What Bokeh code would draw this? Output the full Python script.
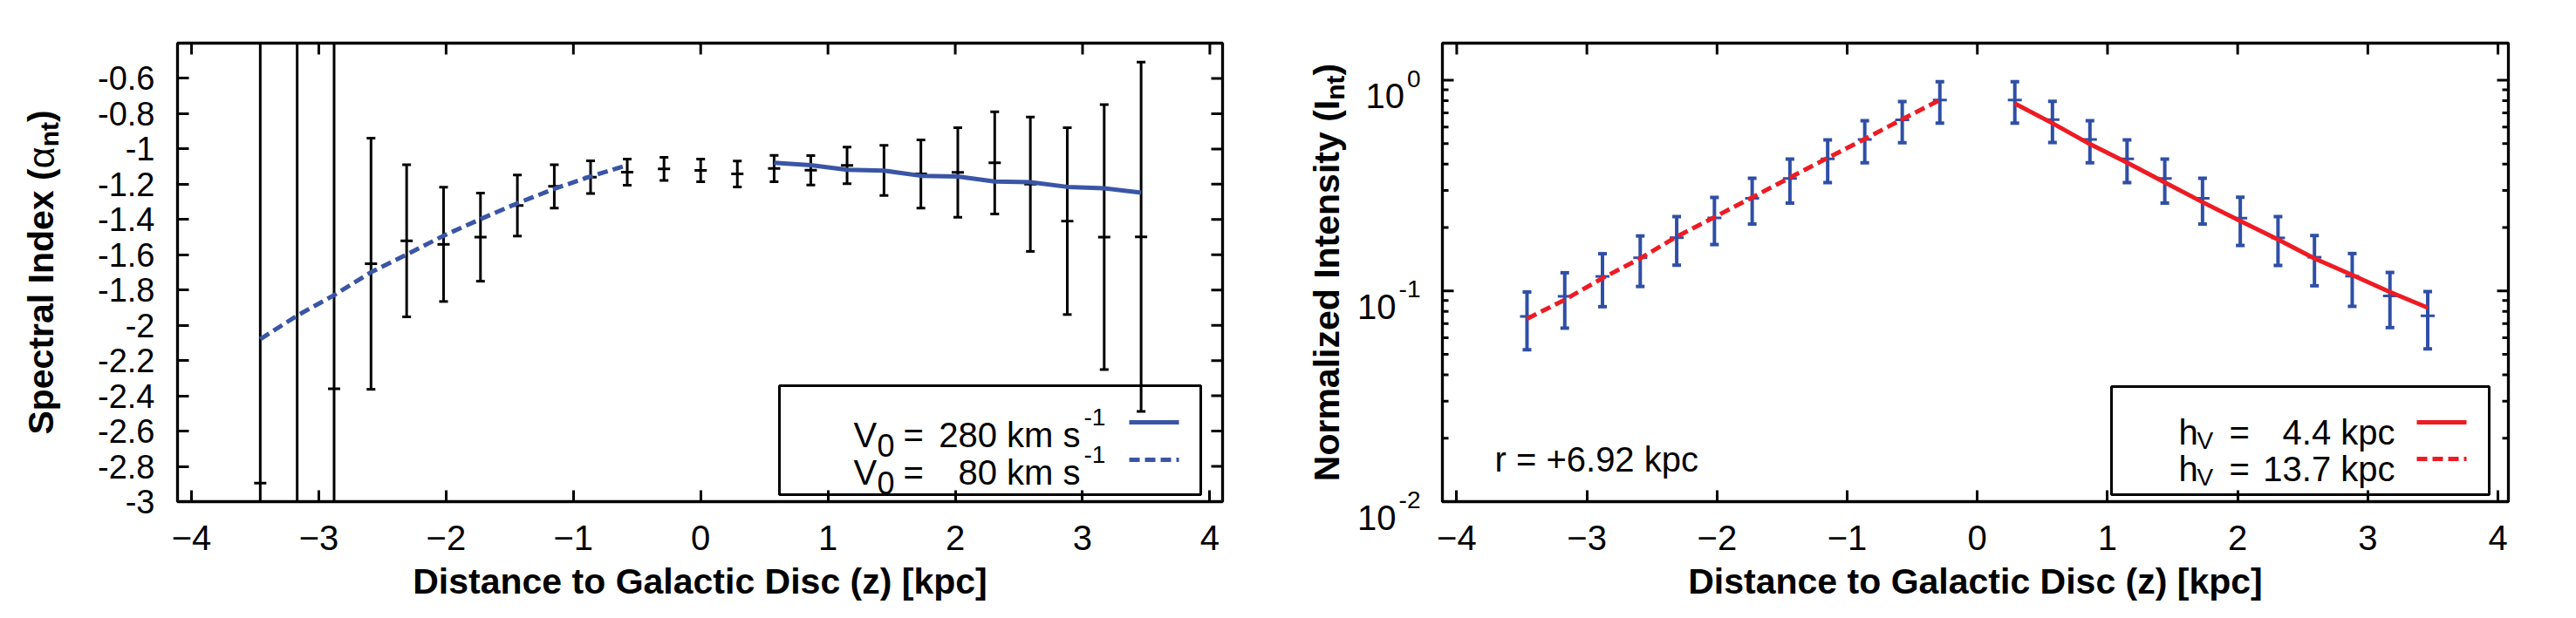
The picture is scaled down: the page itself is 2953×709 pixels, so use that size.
import math
from bokeh.plotting import figure
from bokeh.layouts import row
from bokeh.models import Label, BoxAnnotation, FixedTicker, NumeralTickFormatter, Range1d, Plot
from bokeh.embed import file_html
from bokeh.resources import INLINE

FONT = "Liberation Sans"
BLUE_FIT = "#3a55a6"
BLUE_BAR = "#2f4fa6"
RED = "#ed1c24"

# ---------------- data: spectral index profile ----------------
z_alpha = [-3.46, -3.17, -2.88, -2.59, -2.31, -2.02, -1.73, -1.44, -1.15, -0.865, -0.577, -0.288,
           0.0, 0.288, 0.577, 0.865, 1.15, 1.44, 1.73, 2.02, 2.31, 2.59, 2.88, 3.17, 3.46]
alpha = [-2.895, -3.30, -2.36, -1.651, -1.521, -1.541, -1.50, -1.321, -1.212, -1.16, -1.132, -1.113,
         -1.122, -1.142, -1.111, -1.121, -1.093, -1.122, -1.142, -1.133, -1.079, -1.20, -1.409, -1.50, -1.498]
alpha_err = [2.75, 3.0, 2.05, 0.712, 0.431, 0.324, 0.25, 0.173, 0.123, 0.093, 0.074, 0.066,
             0.064, 0.073, 0.075, 0.083, 0.104, 0.142, 0.193, 0.254, 0.29, 0.381, 0.53, 0.751, 0.99]

# advection model, V0 = 80 km/s (below the disc)
z_v80 = [-3.46, -3.17, -2.88, -2.59, -2.31, -2.02, -1.73, -1.44, -1.15, -0.865, -0.577]
alpha_v80 = [-2.079, -1.945, -1.829, -1.699, -1.599, -1.492, -1.398, -1.308, -1.226, -1.156, -1.092]
# advection model, V0 = 280 km/s (above the disc)
z_v280 = [0.577, 0.865, 1.15, 1.44, 1.73, 2.02, 2.31, 2.59, 2.88, 3.17, 3.46]
alpha_v280 = [-1.078, -1.092, -1.118, -1.123, -1.152, -1.156, -1.185, -1.188, -1.215, -1.223, -1.248]

# ---------------- data: normalized intensity profile ----------------
z_int = [-3.46, -3.17, -2.88, -2.59, -2.31, -2.02, -1.73, -1.44, -1.15, -0.865, -0.577, -0.288,
         0.288, 0.577, 0.865, 1.15, 1.44, 1.73, 2.02, 2.31, 2.59, 2.88, 3.17, 3.46]
intensity = [0.0757, 0.0943, 0.1172, 0.1437, 0.179, 0.222, 0.275, 0.342, 0.424, 0.524, 0.649, 0.805,
             0.805, 0.65, 0.524, 0.424, 0.342, 0.275, 0.2214, 0.1786, 0.1445, 0.1175, 0.0947, 0.0762]
intensity_err = [0.0231, 0.0277, 0.033, 0.0387, 0.0465, 0.056, 0.0673, 0.081, 0.097, 0.118, 0.144, 0.179,
                 0.179, 0.144, 0.118, 0.097, 0.081, 0.0673, 0.057, 0.0465, 0.0387, 0.033, 0.0277, 0.0231]

# exponential scale-height fits
z_h137 = [-3.46, -3.17, -2.88, -2.59, -2.31, -2.02, -1.73, -1.44, -1.15, -0.865, -0.577, -0.288]
int_h137 = [0.0738, 0.0908, 0.115, 0.1427, 0.181, 0.224, 0.278, 0.345, 0.428, 0.526, 0.653, 0.806]
z_h44 = [0.288, 0.577, 0.865, 1.15, 1.44, 1.73, 2.02, 2.31, 2.59, 2.88, 3.17, 3.46]
int_h44 = [0.776, 0.625, 0.4977, 0.4066, 0.3277, 0.264, 0.2148, 0.1754, 0.1427, 0.119, 0.0989, 0.0833]

# ---------------- ticks ----------------
x_ticks = [-4, -3, -2, -1, 0, 1, 2, 3, 4]
alpha_ticks = [-3.0, -2.8, -2.6, -2.4, -2.2, -2.0, -1.8, -1.6, -1.4, -1.2, -1.0, -0.8, -0.6]
int_ticks = [0.01, 0.1, 1.0]
int_tick_exps = ["-2", "-1", "0"]
int_minor = [0.02, 0.03, 0.04, 0.05, 0.06, 0.07, 0.08, 0.09, 0.2, 0.3, 0.4, 0.5, 0.6, 0.7, 0.8, 0.9]

# ---------------- layout constants (page pixels) ----------------
H = 709
TOP, FH = 49, 526
GUTTER_L = 100                      # strip holding the left y title
L_LEFT, L_FW = 203, 1198            # left frame
L_W = 1450 - GUTTER_L
GUTTER_R = 190                      # strip holding the right y title and decade labels
R_START = 1450 + GUTTER_R
R_LEFT, R_FW = 1653, 1222           # right frame
R_W = 2953 - R_START
LX = (-4.11, 4.10)
LY = (-3.0, -0.4)
RX = (-4.11, 4.08)
RY = (0.01, 1.5)
R_LO, R_HI = math.log10(RY[0]), math.log10(RY[1])

# strips may opt out of frame alignment so that their drawing area spans the full height
FULL_STRIP = "frame_align" in Plot.properties()


def lpx(px):
    return LX[0] + (px - L_LEFT) / L_FW * (LX[1] - LX[0])


def lpy(py):
    return LY[1] - (py - TOP) / FH * (LY[1] - LY[0])


def rpx(px):
    return RX[0] + (px - R_LEFT) / R_FW * (RX[1] - RX[0])


def rpy(py):
    return 10 ** (R_HI - (py - TOP) / FH * (R_HI - R_LO))


def r_py_of(v):
    return TOP + (R_HI - math.log10(v)) / (R_HI - R_LO) * FH


# Arial / Liberation advance widths (per 1000 em) used to lay out the composite texts
BOLD_W = {" ": 278, "(": 333, ")": 333, "S": 667, "p": 611, "e": 556, "c": 556, "t": 333,
          "r": 389, "a": 556, "l": 278, "I": 278, "n": 611, "d": 611, "x": 556, "N": 722,
          "o": 611, "m": 889, "i": 278, "z": 500, "y": 556, "s": 556}
REG_W = {"α": 580, "-": 333, "0": 556, "1": 556, "2": 556}


def width(s, size, bold):
    table = BOLD_W if bold else REG_W
    return sum(table[c] for c in s) * size / 1000.0


def add_text(p, x, y, text, size, bold=False, align="left", angle=0.0):
    p.add_layout(Label(x=x, y=y, text=text, text_font=FONT, text_font_size=f"{size}px",
                       text_font_style="bold" if bold else "normal", text_align=align,
                       text_baseline="alphabetic", angle=angle, text_color="black"))


def style_axis(ax, ticker, label_size, standoff):
    ax.ticker = ticker
    ax.axis_line_color = None
    ax.major_tick_in = 13
    ax.major_tick_out = 0
    ax.major_tick_line_width = 3
    ax.major_tick_line_color = "black"
    ax.minor_tick_line_color = None
    ax.major_label_text_font = FONT
    ax.major_label_text_color = "black"
    ax.major_label_text_font_size = label_size
    ax.major_label_standoff = standoff


def make_fig(width_px, border_left, border_right, xr, yr, ytype, yloc="left"):
    p = figure(width=width_px, height=H, x_range=Range1d(*xr), y_range=Range1d(*yr),
               y_axis_type=ytype, y_axis_location=yloc, output_backend="svg", toolbar_location=None,
               min_border_left=border_left, min_border_right=border_right,
               min_border_top=TOP, min_border_bottom=H - TOP - FH)
    p.grid.visible = False
    p.outline_line_color = "black"
    p.outline_line_width = 3.3
    p.outline_line_alpha = 1.0
    p.background_fill_color = "white"
    p.border_fill_color = "white"
    return p


def side_strip(width_px, to_y, ytype):
    # axis-free strip whose vertical scale continues the neighbouring panel's scale
    top, bottom = (0, H) if FULL_STRIP else (TOP, TOP + FH)
    f = figure(width=width_px, height=H, x_range=Range1d(0, width_px),
               y_range=Range1d(to_y(bottom), to_y(top)), y_axis_type=ytype,
               x_axis_location=None, y_axis_location=None,
               output_backend="svg", toolbar_location=None,
               min_border_left=0, min_border_right=0,
               min_border_top=top, min_border_bottom=H - bottom)
    if FULL_STRIP:
        f.frame_align = False
    f.grid.visible = False
    f.outline_line_color = None
    f.background_fill_color = "white"
    f.border_fill_color = "white"
    return f


def x_axis(p):
    bottom = p.below[0]
    style_axis(bottom, FixedTicker(ticks=x_ticks), "40px", 27)
    bottom.axis_label = "Distance to Galactic Disc (z) [kpc]"
    bottom.axis_label_text_font = FONT
    bottom.axis_label_text_font_style = "bold"
    bottom.axis_label_text_font_size = "41px"
    bottom.axis_label_text_color = "black"
    bottom.axis_label_standoff = 10


def edge_ticks(p, xs, y_edge, x_edge, ys, size=26, vertical=True):
    # inward ticks drawn as dashes centred on a frame edge; the outer half is clipped away
    if vertical:
        p.scatter(x=xs, y=[y_edge] * len(xs), marker="dash", angle=math.pi / 2, size=size,
                  line_color="black", line_width=3)
    else:
        p.scatter(x=[x_edge] * len(ys), y=ys, marker="dash", size=size,
                  line_color="black", line_width=3)


def add_ytitle(f, base_x, pieces, to_x, to_y):
    total = sum(width(t, s, b) for t, s, b, _ in pieces)
    py = TOP + FH / 2 + total / 2.0
    for text, size, bold, shift in pieces:
        add_text(f, to_x(base_x + shift), to_y(py), text, size, bold=bold, angle=math.pi / 2)
        py -= width(text, size, bold)


# ======================= left panel: spectral index =======================
fL = side_strip(GUTTER_L, lpy, "linear")
add_ytitle(fL, 46, [("Spectral Index (", 41, True, 0), ("α", 43, False, 0),
                    ("nt", 30, True, 10), (")", 41, True, 0)],
           lambda px: px, lpy)

p1 = make_fig(L_W, L_LEFT - GUTTER_L, 1450 - L_LEFT - L_FW, LX, LY, "linear")
x_axis(p1)
left_ax = p1.left[0]
style_axis(left_ax, FixedTicker(ticks=alpha_ticks), "38px", 26)
left_ax.formatter = NumeralTickFormatter(format="0.[0]")
edge_ticks(p1, x_ticks, LY[1], None, None)
edge_ticks(p1, None, None, LX[1], alpha_ticks, vertical=False)

a_lo = [a - e for a, e in zip(alpha, alpha_err)]
a_hi = [a + e for a, e in zip(alpha, alpha_err)]
p1.segment(x0=z_alpha, y0=a_lo, x1=z_alpha, y1=a_hi, line_color="black", line_width=3)
p1.scatter(x=z_alpha + z_alpha, y=a_lo + a_hi, marker="dash", size=10, line_color="black", line_width=3)
p1.scatter(x=z_alpha, y=alpha, marker="dash", size=14, line_color="black", line_width=3)

p1.line(z_v80, alpha_v80, line_color=BLUE_FIT, line_width=5, line_dash="12 6")
p1.line(z_v280, alpha_v280, line_color=BLUE_FIT, line_width=5)

# key
p1.add_layout(BoxAnnotation(left=lpx(893), right=lpx(1376), top=lpy(442), bottom=lpy(567),
                            fill_alpha=0, line_color="black", line_width=3, line_alpha=1))
for base, value, dash in [(498, "280 km s", "solid"), (541, "80 km s", "12 6")]:
    add_text(p1, lpx(978), lpy(base), "V", 40)
    add_text(p1, lpx(1005), lpy(base + 12), "0", 36)
    add_text(p1, lpx(1035), lpy(base), "=", 40)
    add_text(p1, lpx(1238), lpy(base), value, 40, align="right")
    add_text(p1, lpx(1242), lpy(base - 20), "-1", 28)
    p1.line([lpx(1294), lpx(1351)], [lpy(base - 14)] * 2, line_color=BLUE_FIT, line_width=5,
            line_dash=dash)

# ======================= right panel: normalized intensity =======================
fR = side_strip(GUTTER_R, rpy, "log")
add_ytitle(fR, 1520, [("Normalized Intensity (", 41, True, 0), ("I", 41, True, 0),
                      ("nt", 30, True, 10), (")", 41, True, 0)],
           lambda px: px - 1450, rpy)
# decade labels 10^k beside the log axis
for val, exp in zip(int_ticks, int_tick_exps):
    tp = r_py_of(val)
    sup_right = 1628 - 1450
    add_text(fR, sup_right, rpy(tp - 2), exp, 28, align="right")
    add_text(fR, sup_right - width(exp, 28, False) - 3, rpy(tp + 18), "10", 40, align="right")

p2 = make_fig(R_W, R_LEFT - R_START, 2953 - R_LEFT - R_FW, RX, RY, "log", yloc=None)
x_axis(p2)
edge_ticks(p2, x_ticks, RY[1], None, None)
for x_edge in RX:
    edge_ticks(p2, None, None, x_edge, int_ticks, vertical=False)
    edge_ticks(p2, None, None, x_edge, int_minor, size=14, vertical=False)

i_lo = [v - e for v, e in zip(intensity, intensity_err)]
i_hi = [v + e for v, e in zip(intensity, intensity_err)]
p2.segment(x0=z_int, y0=i_lo, x1=z_int, y1=i_hi, line_color=BLUE_BAR, line_width=4)
p2.scatter(x=z_int + z_int, y=i_lo + i_hi, marker="dash", size=10, line_color=BLUE_BAR, line_width=4)
p2.scatter(x=z_int, y=intensity, marker="dash", size=16, line_color=BLUE_BAR, line_width=3)

p2.line(z_h137, int_h137, line_color=RED, line_width=5, line_dash="12 6")
p2.line(z_h44, int_h44, line_color=RED, line_width=5)

add_text(p2, rpx(1713), rpy(526), "r = +6.92 kpc", 40)

# key
p2.add_layout(BoxAnnotation(left=rpx(2420), right=rpx(2853), top=rpy(443), bottom=rpy(567),
                            fill_alpha=0, line_color="black", line_width=3, line_alpha=1))
for base, value, dash in [(495, "4.4 kpc", "solid"), (537, "13.7 kpc", "12 6")]:
    add_text(p2, rpx(2497), rpy(base), "h", 40)
    add_text(p2, rpx(2518), rpy(base + 10), "V", 28)
    add_text(p2, rpx(2555), rpy(base), "=", 40)
    add_text(p2, rpx(2745), rpy(base), value, 40, align="right")
    p2.line([rpx(2770), rpx(2827)], [rpy(base - 11)] * 2, line_color=RED, line_width=5, line_dash=dash)

layout = row(fL, p1, fR, p2)
open("out.html", "w").write(file_html(layout, INLINE, "Spectral index and intensity profiles"))
